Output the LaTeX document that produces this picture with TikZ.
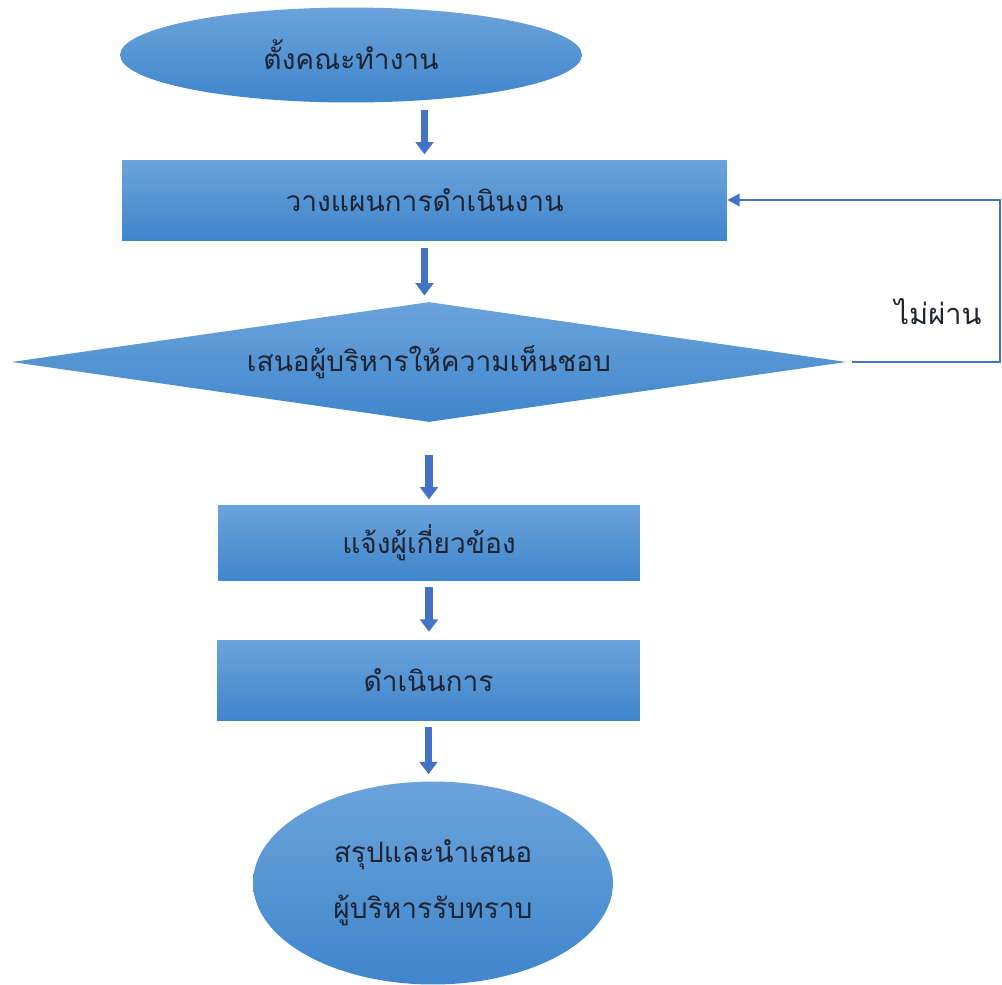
\documentclass[tikz,border=0pt]{standalone}
\usepackage{fontspec}
\newfontfamily\thaifont[Script=Thai]{Loma}
\usetikzlibrary{shapes.geometric,arrows.meta}
\definecolor{boxtop}{HTML}{6BA3DB}
\definecolor{boxbot}{HTML}{3F86CC}
\definecolor{flowblue}{HTML}{4472C4}
\definecolor{ink}{HTML}{1F2433}
\tikzset{box/.style= {top color=boxtop, bottom color=boxbot, draw=none, text=ink, align=center, font=\thaifont\fontsize{16}{32}\selectfont, inner sep=2pt}}
\tikzset{down/.style= {draw=flowblue, line width=4pt, -{Triangle[width=10pt,length=7pt]}}}
\tikzset{back/.style= {draw=flowblue, line width=1.3pt, -{Triangle[width=7pt,length=7pt]}}}

\begin{document}
\begin{tikzpicture}[x=0.02cm,y=-0.02cm]
        \useasboundingbox (0,0) rectangle (1002,985);

        \node[box, ellipse, minimum width=9.24cm, minimum height=1.9cm](start)at(351,55){ตั้งคณะทำงาน};
        \node[box, minimum width=12.1cm, minimum height=1.6cm](plan)at(424.5,200){วางแผนการดำเนินงาน};
        \node[box, diamond, aspect=7, minimum width=16.7cm, minimum height=2.4cm](approve)at(429,362){เสนอผู้บริหารให้ความเห็นชอบ};
        \node[box, minimum width=8.44cm, minimum height=1.5cm](inform)at(429,542.5){แจ้งผู้เกี่ยวข้อง};
        \node[box, minimum width=8.46cm, minimum height=1.6cm](act)at(428.5,680){ดำเนินการ};
        \node[box, ellipse, minimum width=7.2cm, minimum height=4.06cm](finish)at(433,883){สรุปและนำเสนอ\\ผู้บริหารรับทราบ};

        \draw[down, shorten <=4pt, shorten >=3pt](start.south -| plan.north)--(plan.north);
        \draw[down, shorten <=4.5pt, shorten >=3.5pt](plan.south)--(plan.south |- approve.north);
        \draw[down, shorten <=18.5pt, shorten >=3pt](approve.south)--(inform.north);
        \draw[down, shorten <=4pt, shorten >=4.5pt](inform.south)--(inform.south |- act.north);
        \draw[down, shorten <=4pt, shorten >=4pt](act.south)--(act.south |- finish.north);

        \coordinate(turn)at(1000,282);
        \node[text=ink, font=\thaifont\fontsize{16.5}{20}\selectfont](nopass)at(938,312){ไม่ผ่าน};
        \draw[back]([xshift=3pt]approve.east)-|(turn)|-(plan.east);
    \end{tikzpicture}
\end{document}
